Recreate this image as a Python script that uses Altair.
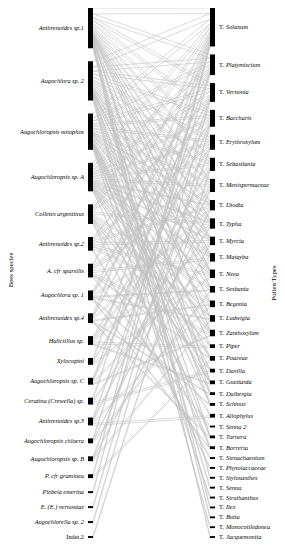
import altair as alt
import pandas as pd

# ---------------- data ----------------
bees = ["Anthrenoides sp.1", "Augochlora sp. 2", "Augochloropsis notophos",
        "Augochloropsis sp. A", "Colletes argentinus", "Anthrenoides sp.2",
        "A. cfr sparsilis", "Augochlora sp. 1", "Anthrenoides sp.4",
        "Halictillus sp.", "Xylocopini", "Augochloropsis sp. C",
        "Ceratina (Crewella) sp.", "Anthrenoides sp.3", "Augochloropsis chloera",
        "Augochloropsis sp. B", "P. cfr graminea", "Plebeia emerina",
        "E. (E.)  vernoniae", "Augochlorella sp. 2", "Indet.2"]

pollen = ["Solanum", "Platymiscium", "Vernonia", "Baccharis", "Erythroxylum",
          "Sebastiania", "Menispermaceae", "Diodia", "Typha", "Myrcia", "Matayba",
          "Neea", "Sesbania", "Begonia", "Ludwigia", "Zanthoxylum", "Piper",
          "Poaceae", "Davilla", "Guettarda", "Dalbergia", "Schinus", "Allophylus",
          "Senna 2", "Turnera", "Borreria", "Stenachaenium", "Phytolaccaceae",
          "Stylosanthes", "Senna", "Struthanthus", "Ilex", "Butia",
          "Monocotiledonea", "Jacquemontia"]

# interactions: bee index -> list of (pollen index, weight)
links = {
    0: [(0, 6), (1, 4), (2, 3), (3, 3), (4, 3), (5, 2), (6, 2), (7, 2), (8, 1), (9, 1), (10, 1),
        (11, 1), (12, 1), (15, 1), (19, 1), (20, 1), (28, 2), (31, 2), (32, 2), (34, 2)],
    1: [(0, 6), (1, 4), (2, 3), (3, 3), (4, 3), (5, 2), (6, 2), (7, 2), (8, 2), (9, 1), (10, 2),
        (11, 1), (13, 1), (14, 1), (16, 1), (21, 1), (24, 1), (29, 2), (33, 2)],
    2: [(0, 5), (1, 3), (2, 3), (3, 2), (4, 2), (5, 2), (6, 2), (7, 1), (8, 1), (9, 1), (10, 1),
        (11, 2), (12, 1), (15, 2), (17, 1), (18, 1), (19, 1), (20, 1), (21, 1), (24, 1), (25, 1), (30, 2)],
    3: [(0, 4), (1, 3), (2, 3), (3, 2), (4, 2), (5, 2), (6, 2), (7, 1), (8, 1), (9, 1), (10, 1),
        (11, 1), (13, 1), (14, 1), (15, 1), (17, 1), (19, 1), (25, 1)],
    4: [(0, 4), (1, 2), (3, 2), (8, 2), (12, 2), (14, 2), (16, 1), (18, 1), (22, 2), (27, 2)],
    5: [(2, 2), (4, 2), (7, 2), (9, 2), (11, 2), (13, 2), (26, 2)],
    6: [(0, 3), (5, 2), (6, 2), (10, 2), (15, 2), (17, 1), (23, 2)],
    7: [(1, 2), (3, 2), (8, 2), (12, 1), (14, 1), (21, 1), (25, 1)],
    8: [(0, 3), (2, 2), (7, 2), (13, 1), (20, 1), (24, 1)],
    9: [(4, 2), (6, 2), (9, 2), (16, 2), (19, 1)],
    10: [(0, 3), (5, 2), (11, 2)],
    11: [(1, 2), (3, 2), (10, 2), (15, 1)],
    12: [(0, 3), (8, 2), (18, 2)],
    13: [(2, 2), (6, 2), (13, 2), (22, 2)],
    14: [(1, 2), (7, 1), (12, 2)],
    15: [(4, 2), (9, 1), (14, 2)],
    16: [(0, 2), (17, 2)],
    17: [(0, 2)],
    18: [(2, 2)],
    19: [(3, 2)],
    20: [(5, 2)],
}

# ---------------- layout ----------------
W, H = 269, 534
SPAN = 530             # vertical extent used by the bars
XL0, XL1 = 80, 85      # left bar
XR0, XR1 = 202, 207    # right bar
GAP_L, GAP_R = 13, 8
FONT = "Liberation Serif"
FS = 6.3

flat = [(b, p, w) for b, lst in links.items() for (p, w) in lst]
bee_tot = [sum(w for b, p, w in flat if b == i) for i in range(len(bees))]
pol_tot = [sum(w for b, p, w in flat if p == j) for j in range(len(pollen))]
T = sum(bee_tot)
kL = (SPAN - GAP_L * (len(bees) - 1)) / T
kR = (SPAN - GAP_R * (len(pollen) - 1)) / T

bee_top, acc = [], 0
for i, t in enumerate(bee_tot):
    bee_top.append(acc * kL + i * GAP_L)
    acc += t
pol_top, acc = [], 0
for j, t in enumerate(pol_tot):
    pol_top.append(acc * kR + j * GAP_R)
    acc += t

bars = pd.DataFrame(
    [dict(x=XL0, x2=XL1, y=bee_top[i], y2=bee_top[i] + bee_tot[i] * kL) for i in range(len(bees))] +
    [dict(x=XR0, x2=XR1, y=pol_top[j], y2=pol_top[j] + pol_tot[j] * kR) for j in range(len(pollen))]
)

# link edges (ordered by partner within each bar)
lcur = list(bee_top)
rcur = list(pol_top)
left_seg = {}
for b in range(len(bees)):
    for p, w in sorted(links[b]):
        left_seg[(b, p)] = (lcur[b], lcur[b] + w * kL)
        lcur[b] += w * kL
right_seg = {}
for p in range(len(pollen)):
    for b, q, w in sorted([f for f in flat if f[1] == p]):
        right_seg[(b, p)] = (rcur[p], rcur[p] + w * kR)
        rcur[p] += w * kR

rows = []
for k, (b, p, w) in enumerate(flat):
    ls, rs = left_seg[(b, p)], right_seg[(b, p)]
    for e in range(2):
        key = f"{k}_{e}"
        rows.append(dict(key=key, o=0, x=XL1, y=ls[e]))
        rows.append(dict(key=key, o=1, x=XR0, y=rs[e]))
edges = pd.DataFrame(rows)

bee_lab = pd.DataFrame(dict(name=bees, x=XL0 - 4,
                            y=[bee_top[i] + bee_tot[i] * kL / 2 for i in range(len(bees))]))
pol_lab = pd.DataFrame(dict(name=pollen, x=XR1 + 4,
                            y=[pol_top[j] + pol_tot[j] * kR / 2 for j in range(len(pollen))]))

xs = alt.Scale(domain=[0, W], nice=False, zero=False)
ys = alt.Scale(domain=[0, H], nice=False, zero=False, reverse=True)
X = lambda f: alt.X(f, type="quantitative", scale=xs, axis=None)
Y = lambda f: alt.Y(f, type="quantitative", scale=ys, axis=None)

link_layer = alt.Chart(edges).mark_line(color="#c2c2c2", strokeWidth=0.6).encode(
    x=X("x"), y=Y("y"), detail="key:N", order="o:Q")

bar_layer = alt.Chart(bars).mark_rect(color="black").encode(
    x=X("x"), x2="x2", y=Y("y"), y2="y2")

bee_italic = alt.Chart(bee_lab).transform_filter("datum.name != 'Indet.2'").mark_text(
    align="right", baseline="middle", font=FONT, fontSize=FS, fontStyle="italic", color="black"
).encode(x=X("x"), y=Y("y"), text="name:N")
bee_plain = alt.Chart(bee_lab).transform_filter("datum.name == 'Indet.2'").mark_text(
    align="right", baseline="middle", font=FONT, fontSize=FS, color="black"
).encode(x=X("x"), y=Y("y"), text="name:N")

pol_T = alt.Chart(pol_lab).mark_text(
    align="left", baseline="middle", font=FONT, fontSize=FS, color="black", text="T."
).encode(x=X("x"), y=Y("y"))
pol_name = alt.Chart(pol_lab).mark_text(
    align="left", baseline="middle", font=FONT, fontSize=FS, fontStyle="italic", color="black", dx=7
).encode(x=X("x"), y=Y("y"), text="name:N")

titles = pd.DataFrame(dict(t=["Bees species", "Pollen Types"], x=[0, W], y=[262, 275]))
t_left = alt.Chart(titles.iloc[[0]]).mark_text(
    angle=270, baseline="top", align="center", font=FONT, fontSize=6.8, color="black"
).encode(x=X("x"), y=Y("y"), text="t:N")
t_right = alt.Chart(titles.iloc[[1]]).mark_text(
    angle=270, baseline="bottom", align="center", font=FONT, fontSize=6.8, color="black"
).encode(x=X("x"), y=Y("y"), text="t:N")

chart = alt.layer(link_layer, bar_layer, bee_italic, bee_plain, pol_T, pol_name, t_left, t_right).properties(
    width=W, height=H, padding=0, autosize=alt.AutoSizeParams(type="none")
).configure_view(strokeWidth=0)

chart.save("out.html", embed_options={"renderer": "svg", "actions": False})
